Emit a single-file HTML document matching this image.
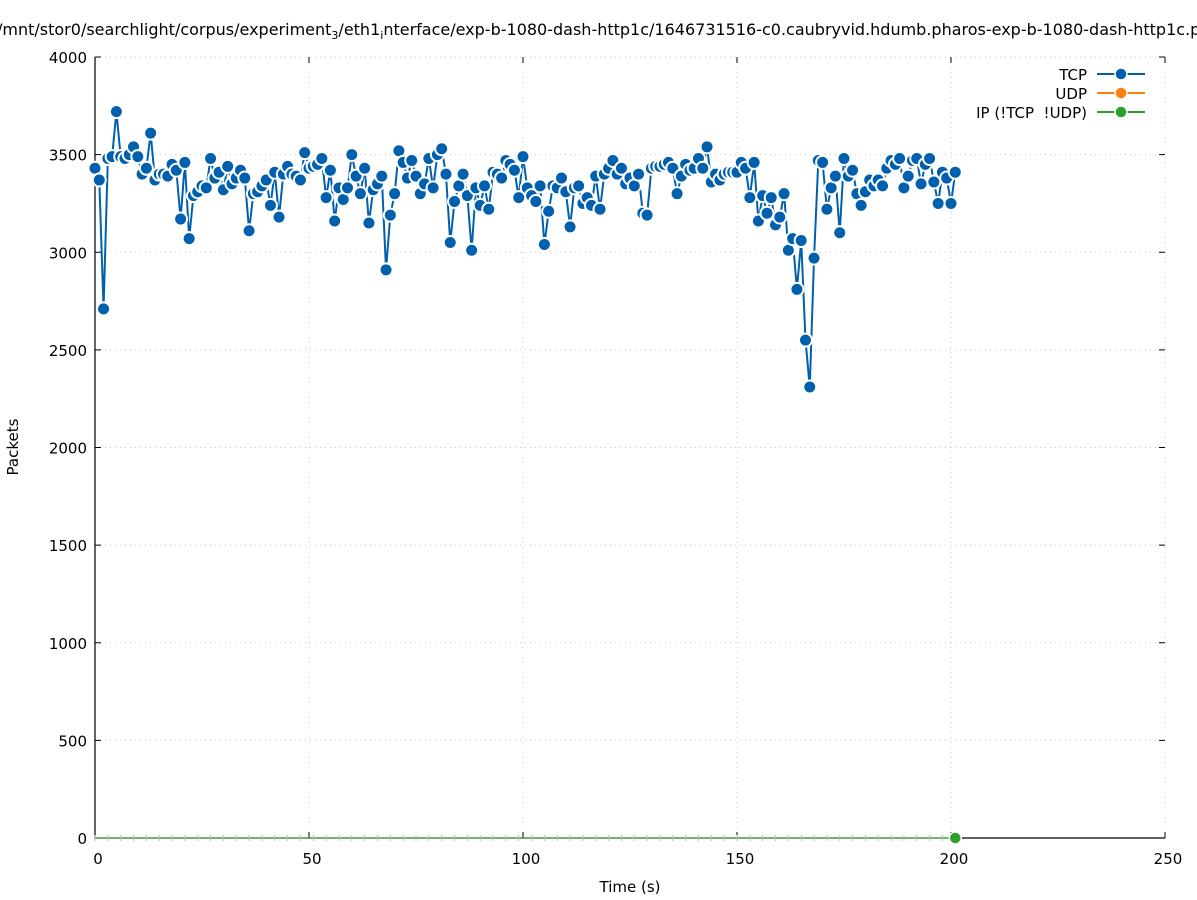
<!DOCTYPE html>
<html><head><meta charset="utf-8"><style>
html,body{margin:0;padding:0;background:#fff;}
svg{display:block;font-family:"DejaVu Sans","Liberation Sans",sans-serif;}
</style></head><body>
<svg id="chart" width="1197" height="900" viewBox="0 0 1197 900">
<text x="-3" y="35" font-size="16">/mnt/stor0/searchlight/corpus/experiment<tspan font-size="11" dy="4">3</tspan><tspan dy="-4">/eth1</tspan><tspan font-size="11" dy="4">i</tspan><tspan dy="-4">nterface/exp-b-1080-dash-http1c/1646731516-c0.caubryvid.hdumb.pharos-exp-b-1080-dash-http1c.p</tspan></text>
<g id="grid"></g>
<g id="axes"></g>
<g id="series"></g>
<text x="18" y="447" font-size="15" text-anchor="middle" transform="rotate(-90 18 447)">Packets</text>
<text x="630" y="892" font-size="15" text-anchor="middle">Time (s)</text>
<g id="legend"></g>
</svg>
<script>
const xTicks=[0,50,100,150,200,250];
const yTicks=[0,500,1000,1500,2000,2500,3000,3500,4000];
const tcpValues=[3430,3370,2710,3480,3490,3720,3490,3480,3500,3540,3490,3400,3430,3610,3370,3400,3400,3390,3450,3420,3170,3460,3070,3290,3310,3340,3330,3480,3380,3410,3320,3440,3350,3380,3420,3380,3110,3300,3310,3340,3370,3240,3410,3180,3400,3440,3400,3390,3370,3510,3430,3440,3450,3480,3280,3420,3160,3330,3270,3330,3500,3390,3300,3430,3150,3320,3350,3390,2910,3190,3300,3520,3460,3380,3470,3390,3300,3350,3480,3330,3500,3530,3400,3050,3260,3340,3400,3290,3010,3330,3240,3340,3220,3410,3400,3380,3470,3450,3420,3280,3490,3330,3290,3260,3340,3040,3210,3340,3330,3380,3310,3130,3330,3340,3250,3280,3240,3390,3220,3400,3430,3470,3400,3430,3350,3380,3340,3400,3200,3190,3430,3440,3440,3450,3460,3430,3300,3390,3450,3420,3430,3480,3430,3540,3360,3400,3370,3400,3410,3410,3410,3460,3430,3280,3460,3160,3290,3200,3280,3140,3180,3300,3010,3070,2810,3060,2550,2310,2970,3470,3460,3220,3330,3390,3100,3480,3390,3420,3300,3240,3310,3370,3340,3370,3340,3430,3470,3450,3480,3330,3390,3470,3480,3350,3450,3480,3360,3250,3410,3380,3250,3410];
const ipValues=tcpValues.map(()=>0);
const X0=95,X1=1165,Y0=838,Y1=57;
const xs=v=>X0+(v-0)/(250-0)*(X1-X0);
const ys=v=>Y0-(v-0)/(4000-0)*(Y0-Y1);
const NS="http://www.w3.org/2000/svg";
function mk(tag,attrs,parent){const e=document.createElementNS(NS,tag);for(const k in attrs)e.setAttribute(k,attrs[k]);parent.appendChild(e);return e;}
const grid=document.getElementById('grid'),axes=document.getElementById('axes'),series=document.getElementById('series'),legend=document.getElementById('legend');
xTicks.forEach(t=>{
 const x=xs(t);
 if(t>0){const g=mk('line',{x1:x,x2:x,y1:Y0,y2:Y1,stroke:'#c8c8c8','stroke-dasharray':'1,4'},grid);
 
 }
 mk('line',{x1:x,x2:x,y1:Y0,y2:Y0-6,stroke:'#000'},axes);
 mk('line',{x1:x,x2:x,y1:Y1,y2:Y1+6,stroke:'#000'},axes);
 const l=mk('text',{x:x+3,y:Y0+26,'font-size':15,'text-anchor':'middle'},axes);l.textContent=t;
 
 
});
yTicks.forEach(t=>{
 const y=ys(t);
 if(t>0){const g=mk('line',{x1:X0,x2:X1,y1:y,y2:y,stroke:'#c8c8c8','stroke-dasharray':'1,4'},grid);
 
 }
 mk('line',{x1:X0,x2:X0+6,y1:y,y2:y,stroke:'#000'},axes);
 mk('line',{x1:X1,x2:X1-6,y1:y,y2:y,stroke:'#000'},axes);
 const l=mk('text',{x:X0-8,y:y+6,'font-size':15,'text-anchor':'end'},axes);l.textContent=t;
 
 
});
const ax=mk('polyline',{points:`${X0},${Y1} ${X0},${Y0} ${X1},${Y0}`,fill:'none',stroke:'#000','stroke-width':1.2},axes);


const ipLine=mk('polyline',{points:ipValues.map((v,i)=>xs(i)+','+ys(v)).join(' '),fill:'none',stroke:'#2ca02c','stroke-width':1},series);


ipValues.forEach((v,i)=>{if(i%3===0){const m=mk('line',{x1:xs(i),x2:xs(i),y1:ys(v)-3,y2:ys(v)+3,stroke:'#9bd39b'},series);
 
 }});
const ipLast=mk('circle',{cx:xs(ipValues.length-1),cy:ys(ipValues[ipValues.length-1]),r:6,fill:'#2ca02c',stroke:'#fff','stroke-width':1.5},series);


const tl=mk('polyline',{points:tcpValues.map((v,i)=>xs(i)+','+ys(v)).join(' '),fill:'none',stroke:'#0060ad','stroke-width':2},series);


tcpValues.forEach((v,i)=>{const c=mk('circle',{cx:xs(i),cy:ys(v),r:6.5,fill:'#0060ad',stroke:'#fff','stroke-width':2},series);
 
 });
const leg=[['TCP','#0060ad'],['UDP','#ff7f0e'],['IP (!TCP  !UDP)','#2ca02c']];
leg.forEach((d,i)=>{const y=74+i*19;
 const g=mk('g',{},legend);
 
 
 const t=mk('text',{x:1087,y:y+6,'font-size':15,'text-anchor':'end',style:'white-space:pre'},g);t.textContent=d[0];
 mk('line',{x1:1097,x2:1145,y1:y,y2:y,stroke:d[1],'stroke-width':2},g);
 mk('circle',{cx:1121,cy:y,r:6,fill:d[1],stroke:'#fff','stroke-width':1.5},g);
});
</script>
</body></html>
